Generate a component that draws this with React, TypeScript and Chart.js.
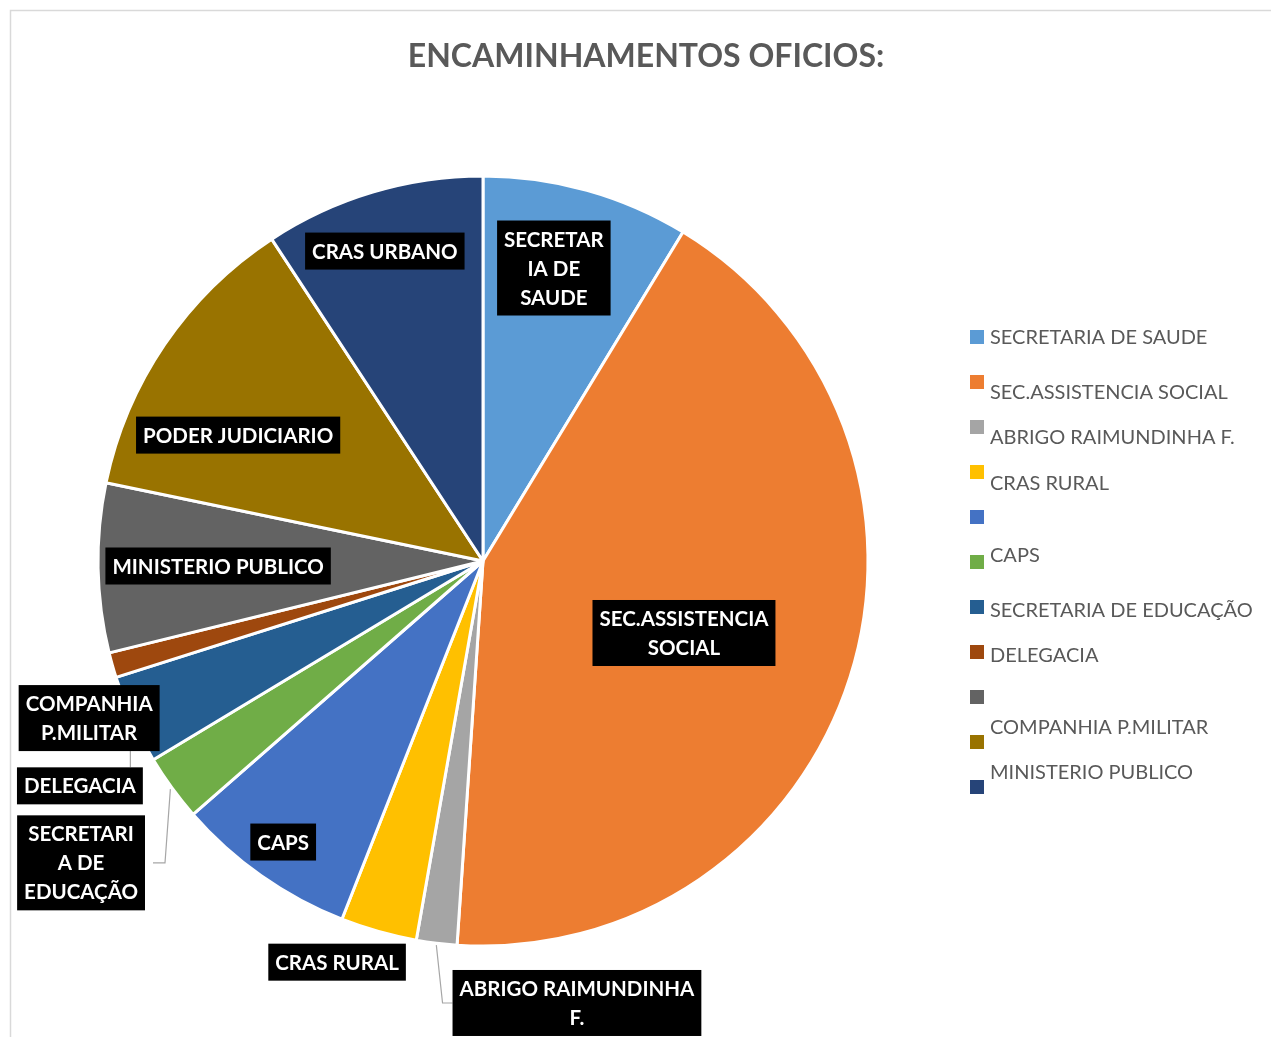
import React, { useEffect, useRef } from "react";
import { Chart, registerables } from "chart.js";

Chart.register(...registerables);

// ---- data ----
const chartTitle = "ENCAMINHAMENTOS OFICIOS:";
const legendLabels = [
  "SECRETARIA DE SAUDE",
  "SEC.ASSISTENCIA SOCIAL",
  "ABRIGO RAIMUNDINHA F.",
  "CRAS RURAL",
  "",
  "CAPS",
  "SECRETARIA DE EDUCAÇÃO",
  "DELEGACIA",
  "",
  "COMPANHIA P.MILITAR",
  "MINISTERIO PUBLICO",
];
const sliceLabels = [
  "SECRETAR\nIA DE\nSAUDE",
  "SEC.ASSISTENCIA\nSOCIAL",
  "ABRIGO RAIMUNDINHA\nF.",
  "CRAS RURAL",
  "CAPS",
  "SECRETARI\nA DE\nEDUCAÇÃO",
  "DELEGACIA",
  "COMPANHIA\nP.MILITAR",
  "MINISTERIO PUBLICO",
  "PODER JUDICIARIO",
  "CRAS URBANO",
];
const sliceValues = [8.7, 42.4, 1.7, 3.2, 7.6, 2.8, 3.75, 1.05, 7.1, 12.5, 9.25];
const sliceColors = [
  "#5B9BD5",
  "#ED7D31",
  "#A5A5A5",
  "#FFC000",
  "#4472C4",
  "#70AD47",
  "#255E91",
  "#9E480E",
  "#636363",
  "#997300",
  "#264478",
];

// ---- label layout (in units of the pie radius, relative to pie centre) ----
const labelAnchors: [number, number][] = [
  [0.184, -0.761],
  [0.522, 0.187],
  [0.244, 1.148],
  [-0.379, 1.042],
  [-0.519, 0.73],
  [-1.044, 0.784],
  [-1.047, 0.584],
  [-1.023, 0.408],
  [-0.688, 0.013],
  [-0.636, -0.327],
  [-0.255, -0.805],
];
// leader line styles: index -> kind
const leaderKinds: Record<number, string> = { 2: "left", 5: "right", 6: "down" };
const legendTextDy = [0, 10, 10, 11, 0, -7, 3, 3, 0, -15, -15];

const FONT = "Lato, 'Open Sans', sans-serif";

const overlayPlugin = {
  id: "overlay",
  beforeDraw(chart: any) {
    const ctx = chart.ctx;
    ctx.save();
    ctx.fillStyle = "#ffffff";
    ctx.fillRect(0, 0, chart.width, chart.height);
    // frame
    ctx.strokeStyle = "#D9D9D9";
    ctx.lineWidth = 1.5;
    ctx.beginPath();
    ctx.moveTo(10.5, chart.height);
    ctx.lineTo(10.5, 10.5);
    ctx.lineTo(chart.width, 10.5);
    ctx.stroke();
    // title
    ctx.fillStyle = "#595959";
    ctx.font = `bold 32px ${FONT}`;
    ctx.textAlign = "center";
    ctx.textBaseline = "alphabetic";
    ctx.fillText(chartTitle, 646, 67);
    ctx.restore();
  },
  afterDatasetsDraw(chart: any) {
    const ctx = chart.ctx;
    const meta = chart.getDatasetMeta(0);
    const first = meta.data[0];
    const cx = first.x;
    const cy = first.y;
    const R = first.outerRadius;
    const labels: string[] = chart.data.datasets[0].sliceLabels;
    const colors: string[] = chart.data.datasets[0].backgroundColor;

    ctx.save();
    ctx.font = `bold 20.5px ${FONT}`;
    const lineH = 29;
    const padX = 7;
    const padY = 4;
    const boxes = labels.map((lab, i) => {
      const lines = lab.split("\n");
      const w = Math.max(...lines.map((l) => ctx.measureText(l).width)) + padX * 2;
      const h = lines.length * lineH + padY * 2;
      const bx = cx + labelAnchors[i][0] * R;
      const by = cy + labelAnchors[i][1] * R;
      return { lines, w, h, left: bx - w / 2, top: by - h / 2, cxb: bx, cyb: by };
    });

    // leader lines
    ctx.strokeStyle = "#A6A6A6";
    ctx.lineWidth = 1.2;
    Object.keys(leaderKinds).forEach((k) => {
      const i = Number(k);
      const arc = meta.data[i];
      const mid = (arc.startAngle + arc.endAngle) / 2;
      const sx = cx + Math.cos(mid) * (R + 2);
      const sy = cy + Math.sin(mid) * (R + 2);
      const b = boxes[i];
      ctx.beginPath();
      ctx.moveTo(sx, sy);
      if (leaderKinds[i] === "left") {
        ctx.lineTo(b.left - 10, b.cyb);
        ctx.lineTo(b.left, b.cyb);
      } else if (leaderKinds[i] === "right") {
        ctx.lineTo(b.left + b.w + 20, b.cyb);
        ctx.lineTo(b.left + b.w + 8, b.cyb);
      } else {
        ctx.lineTo(sx, b.top);
      }
      ctx.stroke();
    });

    // label boxes
    boxes.forEach((b) => {
      ctx.fillStyle = "#000000";
      ctx.fillRect(b.left, b.top, b.w, b.h);
      ctx.fillStyle = "#ffffff";
      ctx.textAlign = "center";
      ctx.textBaseline = "middle";
      b.lines.forEach((l, j) => {
        ctx.fillText(l, b.cxb, b.top + padY + lineH * j + lineH / 2 + 1);
      });
    });

    // legend
    const legend: string[] = chart.data.labels;
    const lx = 970;
    const ly = 330;
    const step = 45;
    const sq = 14;
    ctx.font = `20px ${FONT}`;
    ctx.textAlign = "left";
    ctx.textBaseline = "middle";
    legend.forEach((t, i) => {
      const y = ly + step * i;
      ctx.fillStyle = colors[i];
      ctx.fillRect(lx, y, sq, sq);
      if (t) {
        ctx.fillStyle = "#595959";
        ctx.fillText(t, lx + 20, y + sq / 2 + legendTextDy[i] + 1);
      }
    });
    ctx.restore();
  },
};

export default function App() {
  const ref = useRef<HTMLCanvasElement | null>(null);
  useEffect(() => {
    if (!ref.current) return;
    const chart = new Chart(ref.current, {
      type: "pie",
      data: {
        labels: legendLabels,
        datasets: [
          {
            data: sliceValues,
            backgroundColor: sliceColors,
            borderColor: "#ffffff",
            borderWidth: 3,
            sliceLabels: sliceLabels,
          } as any,
        ],
      },
      options: {
        responsive: false,
        animation: false,
        layout: { padding: { left: 96.5, right: 401.5, top: 174.5, bottom: 89.5 } },
        plugins: {
          legend: { display: false },
          tooltip: { enabled: false },
          title: { display: false },
        },
      },
      plugins: [overlayPlugin],
    });
    return () => chart.destroy();
  }, []);
  return (
    <div style={{ position: "absolute", left: 0, top: 0, width: 1271, height: 1037, overflow: "hidden", background: "#fff" }}>
      <canvas ref={ref} width={1271} height={1037} style={{ display: "block" }} />
    </div>
  );
}
